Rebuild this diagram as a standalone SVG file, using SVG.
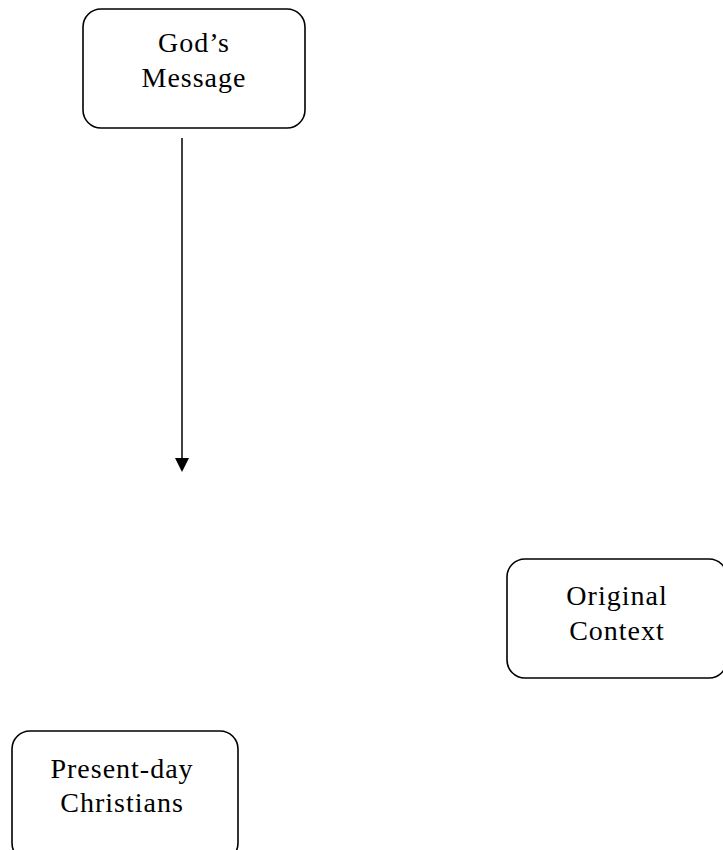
<svg xmlns="http://www.w3.org/2000/svg" width="723" height="850" viewBox="0 0 723 850">
<style>
.box{fill:#fff;stroke:#000;stroke-width:1.6}
.t{font-family:"Liberation Serif","Times New Roman",serif;font-size:28px;fill:#000;text-anchor:middle;letter-spacing:1px}
.conn{stroke:#000;stroke-width:1.5}
.head{fill:#000}
</style>
<rect width="723" height="850" fill="#fff"/>
<g id="connectors">
<line class="conn" x1="182" y1="138" x2="182" y2="460"/>
<path class="head" d="M175,458 L189,458 L182,472 z"/>
</g>
<g id="gods-message">
<rect class="box" x="83" y="9" width="222" height="119" rx="18"/>
<text class="t" x="194" y="52">God’s</text>
<text class="t" x="194" y="87">Message</text>
</g>
<g id="original-context">
<rect class="box" x="507" y="559" width="220" height="119" rx="18"/>
<text class="t" x="617" y="605">Original</text>
<text class="t" x="617" y="640">Context</text>
</g>
<g id="present-day">
<rect class="box" x="12" y="731" width="226" height="130" rx="18"/>
<text class="t" x="122" y="778">Present-day</text>
<text class="t" x="122" y="812">Christians</text>
</g>
</svg>
